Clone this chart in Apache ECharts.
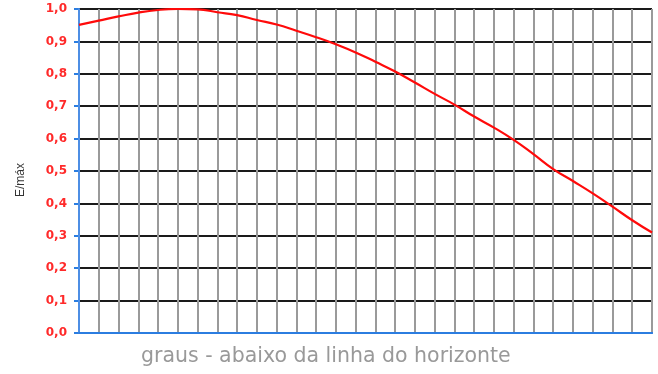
<!DOCTYPE html>
<html>
<head>
<meta charset="utf-8">
<script src="https://cdn.jsdelivr.net/npm/echarts@6/dist/echarts.min.js"></script>
<style>
  html, body { margin: 0; padding: 0; background: #fff; }
  #chart { width: 658px; height: 374px; }
</style>
</head>
<body>
<div id="chart"></div>
<script>
// x positions (one per vertical grid line) and E/max
var steps = [0, 1, 2, 3, 4, 5, 6, 7, 8, 9, 10, 11, 12, 13, 14, 15, 16, 17, 18, 19, 20, 21, 22, 23, 24, 25, 26, 27, 28, 29];
var ratio = [0.951, 0.964, 0.977, 0.989, 0.997, 1.0, 0.999, 0.99, 0.981, 0.966, 0.952, 0.933, 0.913, 0.891, 0.866,
             0.837, 0.807, 0.773, 0.738, 0.705, 0.668, 0.634, 0.596, 0.552, 0.506, 0.469, 0.431, 0.39, 0.348, 0.31];

var blue = '#2b7de0';
var chart = echarts.init(document.getElementById('chart'));

var points = steps.map(function (s, i) { return [s, ratio[i]]; });

var option = {
  animation: false,
  title: {
    text: 'graus - abaixo da linha do horizonte',
    left: 136,
    top: 341,
    textStyle: {
      color: '#999',
      fontSize: 20.5,
      fontWeight: 'normal',
      fontFamily: 'DejaVu Sans'
    }
  },
  grid: {
    left: 79,
    right: 6,
    top: 9,
    bottom: 41
  },
  xAxis: [
    {
      type: 'value',
      min: 0,
      max: steps[steps.length - 1],
      interval: 1,
      axisLine: { show: true, onZero: false, lineStyle: { color: blue, width: 2 } },
      axisTick: { show: false },
      axisLabel: { show: false },
      splitLine: { show: true, lineStyle: { color: '#9a9a9a', width: 2 } }
    },
    {
      type: 'value',
      position: 'top',
      z: 3,
      min: 0,
      max: steps[steps.length - 1],
      axisLine: { show: true, lineStyle: { color: blue, width: 2 } },
      axisTick: { show: false },
      axisLabel: { show: false },
      splitLine: { show: false }
    }
  ],
  yAxis: [
    {
      type: 'value',
      min: 0,
      max: 1,
      interval: 0.1,
      name: 'E/máx',
      nameLocation: 'middle',
      nameRotate: 90,
      nameGap: 52,
      nameTextStyle: { color: '#333', fontSize: 12, fontFamily: 'Liberation Sans', padding: [0, 18, 0, 0] },
      axisLine: { show: true, lineStyle: { color: blue, width: 2 } },
      axisTick: { show: true, length: 5, lineStyle: { color: blue, width: 2 } },
      axisLabel: {
        margin: 12,
        color: '#ff2a2a',
        fontSize: 12,
        fontWeight: 'bold',
        fontFamily: 'DejaVu Sans',
        formatter: function (v) { return v.toFixed(1).replace('.', ','); }
      },
      splitLine: { show: true, lineStyle: { color: '#1a1a1a', width: 2 } }
    },
    {
      type: 'value',
      position: 'right',
      z: 3,
      min: 0,
      max: 1,
      axisLine: { show: true, lineStyle: { color: '#5a95e6', width: 1.5 } },
      axisTick: { show: false },
      axisLabel: { show: false },
      splitLine: { show: false }
    }
  ],
  series: [
    {
      type: 'line',
      data: points,
      smooth: true,
      symbol: 'none',
      lineStyle: { color: '#ff0a0a', width: 2.2 },
      z: 5
    }
  ]
};
chart.setOption(option);
</script>
</body>
</html>
